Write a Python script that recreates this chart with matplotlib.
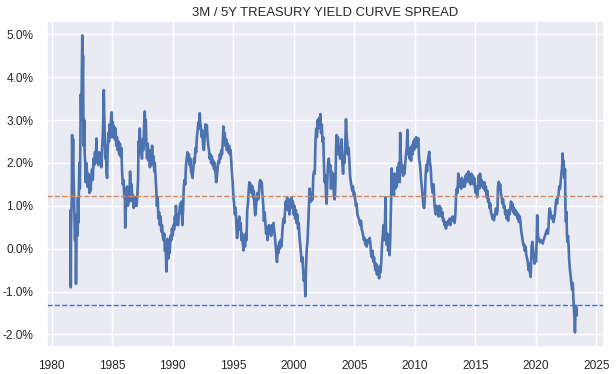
import matplotlib
matplotlib.use("Agg")
import matplotlib.pyplot as plt
import seaborn as sns
from matplotlib.ticker import FuncFormatter

# spread (5Y minus 3M, in percent) as (year, value)
seg_1981 = [
    (1981.54, -0.47), (1981.56, 0.90), (1981.58, -0.90), (1981.60, 0.40), (1981.63, 0.85),
    (1981.66, 1.10), (1981.69, 2.65), (1981.73, 1.90), (1981.77, 2.55), (1981.81, 1.65),
    (1981.85, 1.30), (1981.89, 0.60), (1981.93, 0.20), (1981.97, 0.70), (1982.01, -0.82),
    (1982.05, 0.20), (1982.09, 0.80), (1982.13, 0.30), (1982.17, 1.20), (1982.21, 0.60),
    (1982.25, 1.40), (1982.29, 2.00), (1982.33, 1.40), (1982.37, 2.40), (1982.41, 3.60),
    (1982.45, 3.00), (1982.49, 4.10), (1982.53, 4.97), (1982.56, 3.90), (1982.59, 4.50),
    (1982.62, 3.20), (1982.65, 2.40), (1982.69, 3.00), (1982.73, 2.20), (1982.77, 2.00),
    (1982.81, 1.55), (1982.85, 2.00), (1982.89, 1.90), (1982.93, 1.70), (1982.97, 1.45),
    (1983.02, 1.75), (1983.08, 1.50), (1983.12, 1.30), (1983.17, 1.55), (1983.22, 1.35),
    (1983.28, 1.70), (1983.34, 1.85), (1983.40, 1.60), (1983.46, 2.10), (1983.52, 1.95),
    (1983.58, 2.25), (1983.64, 2.00), (1983.70, 2.57), (1983.74, 2.10), (1983.80, 2.20),
    (1983.86, 1.95), (1983.92, 2.25), (1983.98, 2.00), (1984.04, 2.15), (1984.10, 1.90),
    (1984.16, 2.30), (1984.22, 2.60), (1984.27, 3.10), (1984.31, 3.70), (1984.34, 3.20),
    (1984.38, 2.70), (1984.43, 2.10), (1984.48, 2.40), (1984.53, 1.80), (1984.58, 1.65),
    (1984.62, 2.20), (1984.68, 2.70), (1984.74, 2.50), (1984.80, 2.90), (1984.86, 2.60),
    (1984.92, 3.10), (1984.96, 3.18), (1985.00, 2.60), (1985.05, 2.95), (1985.10, 2.70),
    (1985.16, 2.85), (1985.22, 2.55), (1985.28, 2.80), (1985.34, 2.40), (1985.40, 2.60),
    (1985.46, 2.30), (1985.52, 2.50), (1985.58, 2.20), (1985.64, 2.45), (1985.70, 2.15),
    (1985.76, 2.35), (1985.82, 1.80), (1985.88, 1.50), (1985.94, 1.60), (1986.00, 1.20),
    (1986.04, 1.40), (1986.08, 0.49), (1986.12, 0.90), (1986.18, 1.10), (1986.24, 1.45),
    (1986.30, 1.00), (1986.36, 1.20), (1986.42, 1.10), (1986.48, 1.80), (1986.54, 1.30),
    (1986.60, 1.50), (1986.66, 1.10), (1986.72, 1.25), (1986.78, 0.95), (1986.84, 1.10),
    (1986.90, 1.00), (1986.96, 1.20), (1987.02, 1.00), (1987.08, 1.25), (1987.14, 1.60),
    (1987.18, 2.50), (1987.22, 2.20), (1987.28, 2.80), (1987.34, 2.30), (1987.40, 2.45),
    (1987.46, 2.10), (1987.52, 2.55), (1987.58, 2.30), (1987.64, 2.90), (1987.70, 3.20),
    (1987.74, 2.60), (1987.78, 3.00), (1987.82, 2.50), (1987.88, 2.10), (1987.94, 2.45),
    (1988.00, 2.05), (1988.06, 2.30), (1988.12, 1.90), (1988.18, 2.20), (1988.24, 1.95),
    (1988.30, 2.40), (1988.36, 2.00), (1988.42, 2.15), (1988.48, 1.80),
]

seg_1988 = [
    (1988.52, 2.00), (1988.58, 1.70), (1988.64, 1.40), (1988.70, 1.00), (1988.76, 1.20),
    (1988.82, 0.70), (1988.88, 0.85), (1988.94, 0.55), (1989.00, 0.75), (1989.06, 0.40),
    (1989.12, 0.55), (1989.18, 0.30), (1989.24, 0.20), (1989.30, 0.35), (1989.36, -0.05),
    (1989.42, 0.10), (1989.48, -0.53), (1989.52, -0.20), (1989.58, 0.23), (1989.64, -0.23),
    (1989.70, 0.15), (1989.76, -0.10), (1989.82, 0.30), (1989.88, 0.20), (1989.94, 0.47),
    (1990.00, 0.30), (1990.06, 0.55), (1990.12, 0.45), (1990.18, 0.75), (1990.24, 0.55),
    (1990.27, 1.00), (1990.32, 0.60), (1990.38, 0.80), (1990.44, 0.55), (1990.50, 0.75),
    (1990.56, 0.85), (1990.62, 1.05), (1990.68, 0.90), (1990.74, 1.10), (1990.80, 0.55),
    (1990.86, 0.90), (1990.92, 1.45), (1990.98, 1.60), (1991.04, 1.50), (1991.10, 1.95),
    (1991.16, 2.10), (1991.22, 2.25), (1991.28, 2.05), (1991.34, 2.20), (1991.40, 1.95),
    (1991.46, 2.10), (1991.52, 1.80), (1991.58, 1.75), (1991.64, 1.65), (1991.70, 1.85),
    (1991.76, 2.10), (1991.82, 2.00), (1991.88, 2.35), (1991.94, 2.25), (1992.00, 2.60),
    (1992.06, 2.75), (1992.12, 2.95), (1992.18, 2.80), (1992.24, 3.16), (1992.28, 2.95),
    (1992.34, 2.80), (1992.40, 2.60), (1992.46, 2.75), (1992.52, 2.40), (1992.58, 2.30),
    (1992.64, 2.55), (1992.70, 2.90), (1992.76, 2.70), (1992.82, 2.88), (1992.88, 2.60),
    (1992.94, 2.40), (1993.00, 2.30), (1993.06, 2.10), (1993.12, 2.20), (1993.18, 2.00),
    (1993.24, 2.15), (1993.30, 1.95), (1993.36, 2.05), (1993.42, 1.85), (1993.48, 2.00),
    (1993.54, 1.75), (1993.60, 1.55), (1993.66, 1.70), (1993.72, 1.90), (1993.78, 2.05),
    (1993.84, 2.00), (1993.90, 2.20), (1993.96, 2.10), (1994.02, 2.30), (1994.08, 2.20),
    (1994.14, 2.50), (1994.20, 2.85), (1994.24, 2.55), (1994.30, 2.70), (1994.36, 2.40),
    (1994.42, 2.55), (1994.48, 2.30), (1994.54, 2.45), (1994.60, 2.25), (1994.66, 2.40),
    (1994.72, 2.20), (1994.78, 2.30), (1994.84, 2.05), (1994.90, 1.75), (1994.96, 1.55),
    (1995.02, 1.20), (1995.08, 1.05), (1995.14, 0.80), (1995.20, 0.95), (1995.26, 0.55),
    (1995.32, 0.25), (1995.38, 0.45), (1995.44, 0.60), (1995.50, 0.75), (1995.56, 0.45),
    (1995.62, 0.60), (1995.68, 0.20), (1995.74, 0.35),
]

seg_1995 = [
    (1995.80, 0.10), (1995.86, -0.04), (1995.92, 0.25), (1995.98, 0.05), (1996.04, 0.35),
    (1996.10, 0.20), (1996.16, 0.90), (1996.22, 1.05), (1996.28, 1.35), (1996.34, 1.55),
    (1996.40, 1.40), (1996.46, 1.50), (1996.52, 1.30), (1996.58, 1.45), (1996.64, 1.20),
    (1996.70, 1.35), (1996.76, 1.00), (1996.82, 0.78), (1996.88, 0.95), (1996.94, 1.10),
    (1997.00, 1.30), (1997.06, 1.15), (1997.12, 1.25), (1997.18, 1.55), (1997.24, 1.60),
    (1997.30, 1.45), (1997.36, 1.55), (1997.42, 1.25), (1997.48, 1.05), (1997.54, 0.65),
    (1997.60, 0.85), (1997.66, 0.60), (1997.72, 0.35), (1997.78, 0.50), (1997.84, 0.20),
    (1997.90, 0.40), (1997.96, 0.55), (1998.02, 0.35), (1998.08, 0.50), (1998.14, 0.30),
    (1998.20, 0.55), (1998.26, 0.40), (1998.32, 0.60), (1998.38, 0.45), (1998.44, 0.30),
    (1998.50, 0.10), (1998.56, -0.10), (1998.62, -0.31), (1998.68, 0.05), (1998.74, -0.10),
    (1998.80, 0.15), (1998.86, 0.00), (1998.92, 0.20), (1998.98, 0.05), (1999.04, 0.30),
    (1999.10, 0.55), (1999.16, 0.70), (1999.22, 0.60), (1999.28, 0.85), (1999.34, 1.10),
    (1999.40, 0.95), (1999.46, 1.20), (1999.52, 0.90), (1999.58, 1.15), (1999.64, 0.80),
    (1999.70, 1.05), (1999.76, 0.95), (1999.82, 1.20), (1999.88, 1.00), (1999.94, 1.10),
    (2000.00, 0.80), (2000.06, 1.00), (2000.12, 0.70), (2000.18, 0.90), (2000.24, 0.60),
    (2000.30, 0.80), (2000.36, 0.47), (2000.42, 0.60), (2000.48, 0.25), (2000.54, 0.10),
    (2000.60, -0.10), (2000.66, -0.30), (2000.72, -0.20), (2000.78, -0.50), (2000.84, -0.75),
    (2000.90, -0.60), (2000.96, -1.11), (2001.02, -0.40), (2001.08, 0.00), (2001.14, 0.16),
    (2001.20, 0.60), (2001.26, 1.00), (2001.32, 1.40), (2001.38, 1.20), (2001.44, 1.10),
    (2001.50, 1.25), (2001.56, 1.15), (2001.62, 1.70), (2001.68, 1.80), (2001.74, 1.75),
    (2001.80, 2.50), (2001.86, 2.80), (2001.92, 2.60), (2001.98, 3.00), (2002.04, 2.80),
    (2002.10, 3.05), (2002.16, 2.90), (2002.20, 3.14), (2002.26, 2.70), (2002.32, 2.90),
    (2002.38, 2.50), (2002.44, 2.60), (2002.50, 1.95), (2002.56, 1.55), (2002.62, 1.70),
    (2002.68, 1.20), (2002.72, 1.05), (2002.78, 1.60), (2002.84, 2.00), (2002.90, 2.10),
    (2002.96, 1.80), (2003.02, 1.95), (2003.08, 1.40),
]

seg_2003 = [
    (2003.14, 1.80), (2003.20, 1.55), (2003.26, 1.75), (2003.32, 1.25), (2003.38, 1.15),
    (2003.44, 1.40), (2003.50, 2.30), (2003.54, 2.65), (2003.60, 2.45), (2003.66, 2.60),
    (2003.72, 2.20), (2003.78, 2.35), (2003.84, 2.10), (2003.90, 2.30), (2003.96, 2.55),
    (2004.02, 2.00), (2004.08, 1.75), (2004.14, 2.15), (2004.20, 2.00), (2004.26, 2.40),
    (2004.32, 3.02), (2004.36, 2.70), (2004.42, 2.50), (2004.48, 2.20), (2004.54, 2.35),
    (2004.60, 2.00), (2004.66, 1.70), (2004.72, 1.55), (2004.78, 1.45), (2004.84, 1.35),
    (2004.90, 1.45), (2004.96, 1.25), (2005.02, 1.30), (2005.08, 1.15), (2005.14, 1.00),
    (2005.20, 1.05), (2005.26, 0.80), (2005.32, 0.75), (2005.38, 0.70), (2005.44, 0.62),
    (2005.50, 0.55), (2005.56, 0.65), (2005.62, 0.45), (2005.68, 0.40), (2005.74, 0.30),
    (2005.80, 0.20), (2005.86, 0.25), (2005.92, 0.10), (2005.98, 0.20), (2006.04, 0.05),
    (2006.10, 0.20), (2006.16, 0.20), (2006.22, 0.15), (2006.28, 0.25), (2006.34, 0.10),
    (2006.40, -0.15), (2006.46, -0.20), (2006.52, -0.05), (2006.58, -0.30), (2006.64, -0.20),
    (2006.70, -0.40), (2006.76, -0.50), (2006.82, -0.35), (2006.88, -0.60), (2006.94, -0.45),
    (2007.00, -0.55), (2007.06, -0.69), (2007.12, -0.40), (2007.18, -0.55), (2007.24, -0.30),
    (2007.30, 0.10), (2007.36, 0.30), (2007.42, 0.55), (2007.48, 0.20), (2007.54, 0.50),
    (2007.58, 1.20), (2007.62, 0.40), (2007.68, 0.10), (2007.74, 0.35), (2007.80, -0.05),
    (2007.86, 0.15), (2007.92, -0.15), (2007.98, 0.25), (2008.04, 1.00), (2008.10, 1.87),
    (2008.16, 1.30), (2008.22, 1.60), (2008.28, 1.25), (2008.34, 1.75), (2008.40, 1.40),
    (2008.46, 1.60), (2008.52, 1.45), (2008.58, 1.90), (2008.64, 1.60), (2008.70, 2.00),
    (2008.76, 1.55), (2008.80, 2.70), (2008.86, 2.10), (2008.92, 1.80), (2008.98, 1.95),
    (2009.04, 1.70), (2009.10, 1.90), (2009.16, 1.75), (2009.22, 2.00), (2009.28, 2.20),
    (2009.34, 2.34), (2009.40, 2.77), (2009.46, 2.20), (2009.52, 2.35), (2009.58, 2.10),
    (2009.64, 2.25), (2009.70, 2.05), (2009.76, 2.40), (2009.82, 2.20), (2009.88, 2.50),
    (2009.94, 2.30), (2010.00, 2.55), (2010.06, 2.35), (2010.12, 2.60), (2010.18, 2.40),
    (2010.24, 2.50), (2010.30, 2.57),
]

seg_2010 = [
    (2010.36, 2.10), (2010.42, 2.00), (2010.48, 1.80), (2010.54, 1.55), (2010.60, 1.40),
    (2010.66, 1.20), (2010.72, 1.00), (2010.78, 0.95), (2010.84, 1.20), (2010.90, 1.70),
    (2010.96, 1.95), (2011.02, 1.80), (2011.08, 2.05), (2011.14, 2.15), (2011.20, 2.26),
    (2011.26, 2.00), (2011.32, 1.90), (2011.38, 1.55), (2011.44, 1.40), (2011.50, 1.30),
    (2011.56, 1.50), (2011.62, 1.10), (2011.68, 0.90), (2011.74, 0.80), (2011.80, 1.00),
    (2011.86, 0.90), (2011.92, 0.85), (2011.98, 0.75), (2012.04, 1.00), (2012.10, 0.80),
    (2012.16, 0.95), (2012.22, 0.75), (2012.28, 0.85), (2012.34, 0.65), (2012.40, 0.70),
    (2012.46, 0.55), (2012.52, 0.62), (2012.58, 0.47), (2012.64, 0.60), (2012.70, 0.55),
    (2012.76, 0.65), (2012.82, 0.60), (2012.88, 0.70), (2012.94, 0.55), (2013.00, 0.70),
    (2013.06, 0.65), (2013.12, 0.75), (2013.18, 0.65), (2013.24, 0.72), (2013.30, 0.60),
    (2013.36, 0.80), (2013.42, 1.25), (2013.48, 1.40), (2013.54, 1.30), (2013.60, 1.75),
    (2013.66, 1.55), (2013.72, 1.45), (2013.78, 1.60), (2013.84, 1.40), (2013.90, 1.65),
    (2013.96, 1.50), (2014.02, 1.45), (2014.08, 1.60), (2014.14, 1.45), (2014.20, 1.70),
    (2014.26, 1.55), (2014.32, 1.75), (2014.38, 1.60), (2014.44, 1.80), (2014.50, 1.55),
    (2014.56, 1.70), (2014.62, 1.50), (2014.68, 1.75), (2014.74, 1.60), (2014.80, 1.70),
    (2014.86, 1.50), (2014.92, 1.65), (2014.98, 1.40), (2015.04, 1.30), (2015.10, 1.45),
    (2015.16, 1.20), (2015.22, 1.45), (2015.28, 1.70), (2015.34, 1.40), (2015.40, 1.75),
    (2015.46, 1.50), (2015.52, 1.60), (2015.58, 1.45), (2015.64, 1.55), (2015.70, 1.40),
    (2015.76, 1.55), (2015.82, 1.35), (2015.88, 1.45), (2015.94, 1.20), (2016.00, 1.35),
    (2016.06, 1.10), (2016.12, 1.15), (2016.18, 0.95), (2016.24, 1.05), (2016.30, 0.85),
    (2016.36, 0.80), (2016.42, 0.70), (2016.48, 0.78), (2016.54, 0.66), (2016.60, 0.75),
    (2016.66, 0.85), (2016.72, 0.94), (2016.78, 0.80), (2016.84, 0.90), (2016.88, 1.45),
    (2016.94, 1.56), (2017.00, 1.40), (2017.06, 1.50), (2017.12, 1.30), (2017.18, 1.20),
    (2017.24, 1.05), (2017.30, 1.15),
]

seg_2017 = [
    (2017.36, 0.95), (2017.42, 1.00), (2017.48, 0.80), (2017.54, 0.90), (2017.60, 0.70),
    (2017.66, 0.85), (2017.72, 0.65), (2017.78, 0.90), (2017.84, 0.80), (2017.90, 0.95),
    (2017.96, 1.10), (2018.02, 0.95), (2018.08, 1.05), (2018.14, 0.85), (2018.20, 0.95),
    (2018.26, 0.80), (2018.32, 0.90), (2018.38, 0.78), (2018.44, 0.85), (2018.50, 0.70),
    (2018.56, 0.80), (2018.62, 0.62), (2018.68, 0.75), (2018.74, 0.62), (2018.80, 0.40),
    (2018.86, 0.31), (2018.92, 0.20), (2018.98, 0.08), (2019.04, 0.10), (2019.10, -0.05),
    (2019.16, 0.05), (2019.22, -0.15), (2019.28, -0.23), (2019.34, -0.30), (2019.40, -0.50),
    (2019.46, -0.35), (2019.52, -0.55), (2019.58, -0.66), (2019.62, -0.30), (2019.66, 0.05),
    (2019.72, 0.16), (2019.78, 0.00), (2019.84, -0.20), (2019.90, -0.35), (2019.96, -0.15),
    (2020.02, -0.30), (2020.08, 0.20), (2020.12, 0.78), (2020.16, 0.40), (2020.22, 0.20),
    (2020.28, 0.23), (2020.34, 0.15), (2020.40, 0.20), (2020.46, 0.16), (2020.52, 0.18),
    (2020.58, 0.12), (2020.64, 0.20), (2020.70, 0.25), (2020.76, 0.30), (2020.82, 0.35),
    (2020.88, 0.40), (2020.94, 0.45), (2021.00, 0.35), (2021.06, 0.50), (2021.10, 0.80),
    (2021.16, 0.94), (2021.22, 0.85), (2021.28, 0.78), (2021.34, 0.70), (2021.40, 0.75),
    (2021.46, 0.62), (2021.52, 0.70), (2021.58, 0.80), (2021.64, 1.00), (2021.70, 1.15),
    (2021.76, 1.05), (2021.82, 1.20), (2021.88, 1.25), (2021.94, 1.45), (2022.00, 1.40),
    (2022.06, 1.56), (2022.12, 1.75), (2022.18, 1.90), (2022.22, 2.22), (2022.26, 1.95),
    (2022.30, 2.05), (2022.36, 1.65), (2022.42, 1.85), (2022.46, 0.86), (2022.50, 0.62),
    (2022.54, 0.86), (2022.58, 0.31), (2022.62, 0.16), (2022.66, 0.30), (2022.72, 0.05),
    (2022.76, -0.25), (2022.82, -0.47), (2022.88, -0.62), (2022.94, -0.80), (2023.00, -0.95),
    (2023.06, -0.80), (2023.10, -1.10), (2023.16, -1.40), (2023.20, -1.60), (2023.24, -1.95),
    (2023.28, -1.55), (2023.32, -1.33), (2023.36, -1.56), (2023.40, -1.40),
]

upper_line = 1.22
lower_line = -1.31
x_ticks = [1980, 1985, 1990, 1995, 2000, 2005, 2010, 2015, 2020, 2025]
y_ticks = [-2, -1, 0, 1, 2, 3, 4, 5]

pairs = seg_1981 + seg_1988 + seg_1995 + seg_2003 + seg_2010 + seg_2017
years = [p[0] for p in pairs]
spread = [p[1] for p in pairs]

sns.set_theme(style="darkgrid")
plt.rcParams["font.family"] = ["Liberation Sans", "DejaVu Sans"]

fig = plt.figure(figsize=(6.16, 3.74), dpi=100)
ax = fig.add_axes([0.0758, 0.0717, 0.9047, 0.873])

pal = sns.color_palette("deep")
ax.plot(years, spread, color=pal[0], lw=1.9)
ax.axhline(upper_line, color=pal[1], ls="--", lw=1.0)
ax.axhline(lower_line, color=pal[0], ls="--", lw=1.0)

ax.set_xlim(1979.59, 2025.64)
ax.set_xticks(x_ticks)
ax.set_yticks(y_ticks)
ax.yaxis.set_major_formatter(FuncFormatter(lambda v, p: "{:.1f}%".format(v)))
ax.tick_params(labelsize=8.6, colors="#262626")
ax.set_title("3M / 5Y TREASURY YIELD CURVE SPREAD", fontsize=9.4, color="#262626", pad=3.5)

fig.savefig("out.png", dpi=100)
